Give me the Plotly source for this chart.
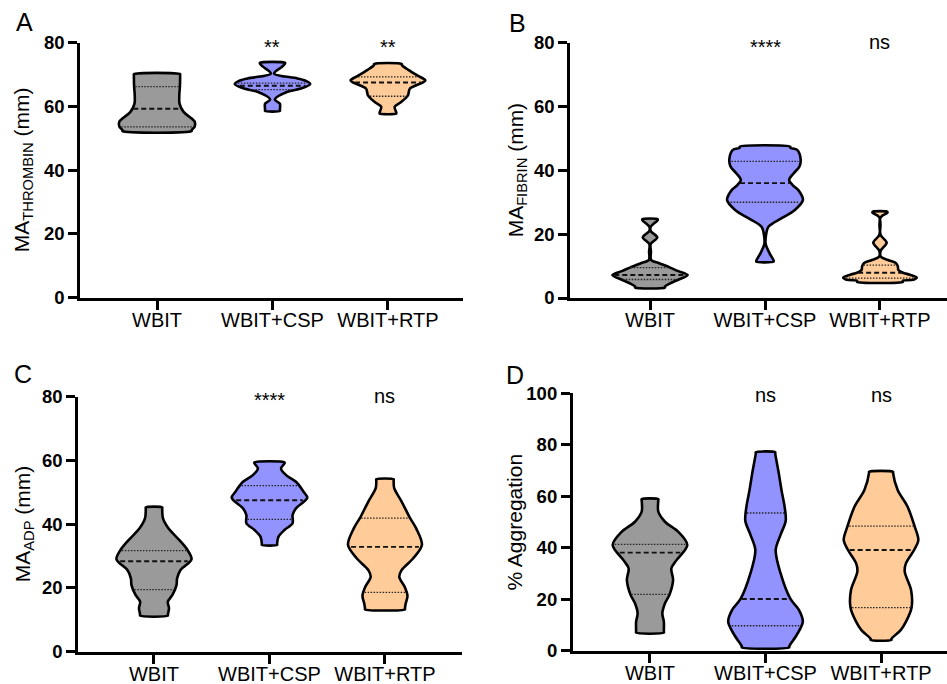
import numpy as np
import plotly.graph_objects as go

# ---------------- data ----------------
CATEGORIES = ["WBIT", "WBIT+CSP", "WBIT+RTP"]

# violin profiles: y levels (bottom->top) and half-widths (fraction of category spacing)
A_WBIT_Y = [52.3, 53.6, 55.2, 56.2, 58.3, 60.9, 63.5, 66.1, 68.5, 70.1]
A_WBIT_W = [0.30, 0.326, 0.327, 0.30, 0.23, 0.195, 0.193, 0.198, 0.20, 0.20]
A_CSP_Y = [58.6, 60.9, 62.2, 64.6, 65.6, 67.0, 68.0, 68.8, 70.3, 72.4, 73.7]
A_CSP_W = [0.064, 0.064, 0.02, 0.13, 0.245, 0.327, 0.29, 0.216, 0.014, 0.08, 0.108]
A_RTP_Y = [57.8, 59.9, 61.4, 63.5, 65.6, 67.5, 68.2, 69.8, 71.4, 73.3]
A_RTP_W = [0.072, 0.058, 0.115, 0.173, 0.19, 0.30, 0.324, 0.25, 0.18, 0.121]

B_WBIT_Y = [3.3, 4.5, 5.8, 7.2, 8.5, 9.6, 10.9, 11.9, 14.5, 16.9, 19.0, 21.0, 22.3, 24.7]
B_WBIT_W = [0.13, 0.17, 0.25, 0.327, 0.24, 0.17, 0.08, 0.01, 0.008, 0.006, 0.063, 0.006, 0.006, 0.066]
B_CSP_Y = [11.4, 14.0, 16.9, 19.5, 22.3, 25.0, 27.6, 30.7, 33.8, 35.4, 37.0, 39.1, 41.2, 43.5, 46.4, 47.4]
B_CSP_W = [0.075, 0.04, 0.006, 0.008, 0.03, 0.145, 0.26, 0.33, 0.29, 0.24, 0.21, 0.25, 0.30, 0.31, 0.28, 0.22]
B_RTP_Y = [5.1, 5.7, 6.4, 7.3, 7.9, 8.8, 10.0, 10.9, 11.9, 12.9, 14.8, 17.3, 19.8, 25.3, 27.0]
B_RTP_W = [0.20, 0.29, 0.32, 0.26, 0.20, 0.16, 0.155, 0.14, 0.07, 0.008, 0.006, 0.058, 0.006, 0.006, 0.064]

C_WBIT_Y = [11.3, 13.6, 15.7, 17.8, 20.9, 23.0, 25.6, 29.0, 31.9, 35.0, 38.7, 41.8, 45.3]
C_WBIT_W = [0.12, 0.13, 0.12, 0.16, 0.195, 0.20, 0.23, 0.325, 0.29, 0.22, 0.125, 0.078, 0.071]
C_CSP_Y = [33.5, 36.1, 38.2, 40.3, 42.9, 45.0, 48.3, 50.2, 53.3, 55.4, 57.5, 59.4]
C_CSP_W = [0.066, 0.078, 0.13, 0.20, 0.20, 0.23, 0.327, 0.295, 0.23, 0.144, 0.10, 0.13]
C_RTP_Y = [13.3, 15.2, 17.5, 20.4, 23.5, 25.6, 29.3, 33.5, 38.7, 42.0, 47.1, 51.3, 54.1]
C_RTP_W = [0.173, 0.18, 0.195, 0.17, 0.124, 0.144, 0.245, 0.32, 0.27, 0.216, 0.144, 0.08, 0.075]

D_WBIT_Y = [7.0, 11.3, 14.5, 18.4, 21.9, 27.5, 32.0, 35.2, 41.1, 46.2, 50.1, 54.0, 58.9]
D_WBIT_W = [0.12, 0.12, 0.107, 0.13, 0.17, 0.20, 0.185, 0.23, 0.323, 0.245, 0.13, 0.072, 0.072]
D_CSP_Y = [1.3, 6.1, 11.3, 15.8, 20.1, 30.1, 39.1, 45.0, 50.5, 56.0, 62.0, 68.9, 77.1]
D_CSP_W = [0.205, 0.27, 0.323, 0.29, 0.216, 0.13, 0.088, 0.13, 0.175, 0.165, 0.14, 0.115, 0.084]
D_RTP_Y = [4.2, 8.0, 11.3, 16.7, 23.6, 30.7, 34.0, 39.4, 43.0, 48.4, 55.9, 62.4, 69.5]
D_RTP_W = [0.09, 0.17, 0.216, 0.264, 0.26, 0.205, 0.216, 0.29, 0.323, 0.29, 0.23, 0.144, 0.104]

# quartiles [Q1, median, Q3]
A_WBIT_Q = [53.6, 59.3, 66.2]
A_CSP_Q = [65.3, 66.5, 67.3]
A_RTP_Q = [63.2, 67.5, 69.3]
B_WBIT_Q = [5.8, 7.2, 9.5]
B_CSP_Q = [30.0, 36.0, 42.8]
B_RTP_Q = [6.2, 7.9, 10.3]
C_WBIT_Q = [19.5, 28.4, 31.7]
C_CSP_Q = [41.5, 47.5, 52.1]
C_RTP_Q = [18.6, 32.9, 41.9]
D_WBIT_Q = [21.9, 38.1, 41.3]
D_CSP_Q = [9.7, 20.1, 53.5]
D_RTP_Q = [16.7, 39.1, 48.4]

A_SIG = ["", "**", "**"]
B_SIG = ["", "****", "ns"]
C_SIG = ["", "****", "ns"]
D_SIG = ["", "ns", "ns"]

A_TITLE = "MA<sub>THROMBIN</sub> (mm)"
B_TITLE = "MA<sub>FIBRIN</sub> (mm)"
C_TITLE = "MA<sub>ADP</sub> (mm)"
D_TITLE = "% Aggregation"

A_TICKS = [0, 20, 40, 60, 80]
B_TICKS = [0, 20, 40, 60, 80]
C_TICKS = [0, 20, 40, 60, 80]
D_TICKS = [0, 20, 40, 60, 80, 100]

# ---------------- styling / layout ----------------
W, H = 947, 684
FILLS = ["#9a9a9a", "#9393ff", "#ffcc99"]
FONT = "Liberation Sans, Arial, Helvetica, sans-serif"

panels = [
    dict(letter="A", n="", profiles=[(A_WBIT_Y, A_WBIT_W, A_WBIT_Q), (A_CSP_Y, A_CSP_W, A_CSP_Q), (A_RTP_Y, A_RTP_W, A_RTP_Q)],
         sig=A_SIG, title=A_TITLE, ticks=A_TICKS,
         xpx=(80, 463), ypx=(297.7, 42.7), xr=[-0.667, 2.65],
         letter_pos=(24, 22), title_x=23, sig_y=[0, 47, 47]),
    dict(letter="B", n="2", profiles=[(B_WBIT_Y, B_WBIT_W, B_WBIT_Q), (B_CSP_Y, B_CSP_W, B_CSP_Q), (B_RTP_Y, B_RTP_W, B_RTP_Q)],
         sig=B_SIG, title=B_TITLE, ticks=B_TICKS,
         xpx=(570, 947), ypx=(298, 42.7), xr=[-0.696, 2.583],
         letter_pos=(517, 23), title_x=517, sig_y=[0, 47, 42]),
    dict(letter="C", n="3", profiles=[(C_WBIT_Y, C_WBIT_W, C_WBIT_Q), (C_CSP_Y, C_CSP_W, C_CSP_Q), (C_RTP_Y, C_RTP_W, C_RTP_Q)],
         sig=C_SIG, title=C_TITLE, ticks=C_TICKS,
         xpx=(78, 462), ypx=(651.7, 396.7), xr=[-0.658, 2.667],
         letter_pos=(23, 374), title_x=24, sig_y=[0, 400, 396]),
    dict(letter="D", n="4", profiles=[(D_WBIT_Y, D_WBIT_W, D_WBIT_Q), (D_CSP_Y, D_CSP_W, D_CSP_Q), (D_RTP_Y, D_RTP_W, D_RTP_Q)],
         sig=D_SIG, title=D_TITLE, ticks=D_TICKS,
         xpx=(572.7, 947), ypx=(650.7, 393.3), xr=[-0.669, 2.571],
         letter_pos=(515, 375), title_x=513.5, sig_y=[0, 394.5, 394.5]),
]

fig = go.Figure()
annotations = []
layout_axes = {}

for p in panels:
    xa = "x" + p["n"]
    ya = "y" + p["n"]
    ymax = p["ticks"][-1]
    eps = ymax * 0.004
    for ci, (ys, ws, q) in enumerate(p["profiles"]):
        ys = list(ys)
        ws = list(ws)
        ry = [ys[0], ys[0] + eps] + ys[1:-1] + [ys[-1] - eps, ys[-1]]
        rw = [ws[0], ws[0]] + ws[1:-1] + [ws[-1], ws[-1]]
        xs = [ci + w for w in rw] + [ci - w for w in rw[::-1]] + [ci + rw[0]]
        yy = ry + ry[::-1] + [ry[0]]
        fig.add_trace(go.Scatter(
            x=xs, y=yy, xaxis=xa, yaxis=ya, mode="lines", fill="toself",
            fillcolor=FILLS[ci], line=dict(color="black", width=2.6, shape="spline", smoothing=0.9),
            hoverinfo="skip", showlegend=False))
        qx, qy = [], []
        for v in (q[0], q[2]):
            hw = float(np.interp(v, ys, ws)) * 0.95
            qx += [ci - hw, ci + hw, None]
            qy += [v, v, None]
        fig.add_trace(go.Scatter(x=qx, y=qy, xaxis=xa, yaxis=ya, mode="lines",
                                 line=dict(color="#222222", width=1.3, dash="1.5px,1.5px"),
                                 hoverinfo="skip", showlegend=False))
        hw = float(np.interp(q[1], ys, ws)) * 0.95
        fig.add_trace(go.Scatter(x=[ci - hw, ci + hw], y=[q[1], q[1]], xaxis=xa, yaxis=ya, mode="lines",
                                 line=dict(color="#111111", width=1.9, dash="5px,3px"),
                                 hoverinfo="skip", showlegend=False))

    x0, x1 = p["xpx"]
    yb, yt = p["ypx"]
    xdom = [x0 / W, min(x1 / W, 1.0)]
    ydom = [(H - yb) / H, (H - yt) / H]
    axis_common = dict(showline=True, linecolor="black", linewidth=2.6, ticks="outside",
                       ticklen=9, tickwidth=2.6, tickcolor="black", showgrid=False, zeroline=False,
                       fixedrange=True, automargin=False)
    layout_axes["xaxis" + p["n"]] = dict(
        domain=xdom, range=p["xr"], anchor=ya, tickvals=[0, 1, 2], ticktext=CATEGORIES,
        ticklabelstandoff=-7,
        tickfont=dict(family=FONT, size=20, color="black"), **axis_common)
    layout_axes["yaxis" + p["n"]] = dict(
        domain=ydom, range=[0, ymax], anchor=xa, tickvals=p["ticks"],
        tickfont=dict(family=FONT, size=18.5, color="black", weight="bold"), **axis_common)

    lx, ly = p["letter_pos"]
    annotations.append(dict(text=p["letter"], x=lx / W, y=1 - ly / H, xref="paper", yref="paper",
                            showarrow=False, xanchor="center", yanchor="middle",
                            font=dict(family=FONT, size=25, color="black")))
    annotations.append(dict(text=p["title"], x=p["title_x"] / W, y=(ydom[0] + ydom[1]) / 2,
                            xref="paper", yref="paper", textangle=-90, showarrow=False,
                            xanchor="center", yanchor="middle",
                            font=dict(family=FONT, size=21, color="black")))
    for ci, s in enumerate(p["sig"]):
        if not s:
            continue
        annotations.append(dict(text=s, x=ci, xref=xa, y=1 - p["sig_y"][ci] / H, yref="paper",
                                showarrow=False, xanchor="center", yanchor="middle",
                                font=dict(family=FONT, size=20, color="black")))

fig.update_layout(
    width=W, height=H, margin=dict(l=0, r=0, t=0, b=0),
    paper_bgcolor="white", plot_bgcolor="white",
    annotations=annotations, showlegend=False, **layout_axes)

fig.write_html("out.html", config={"displayModeBar": False},
               post_script="document.body.style.margin='0';document.body.style.overflow='hidden';")
